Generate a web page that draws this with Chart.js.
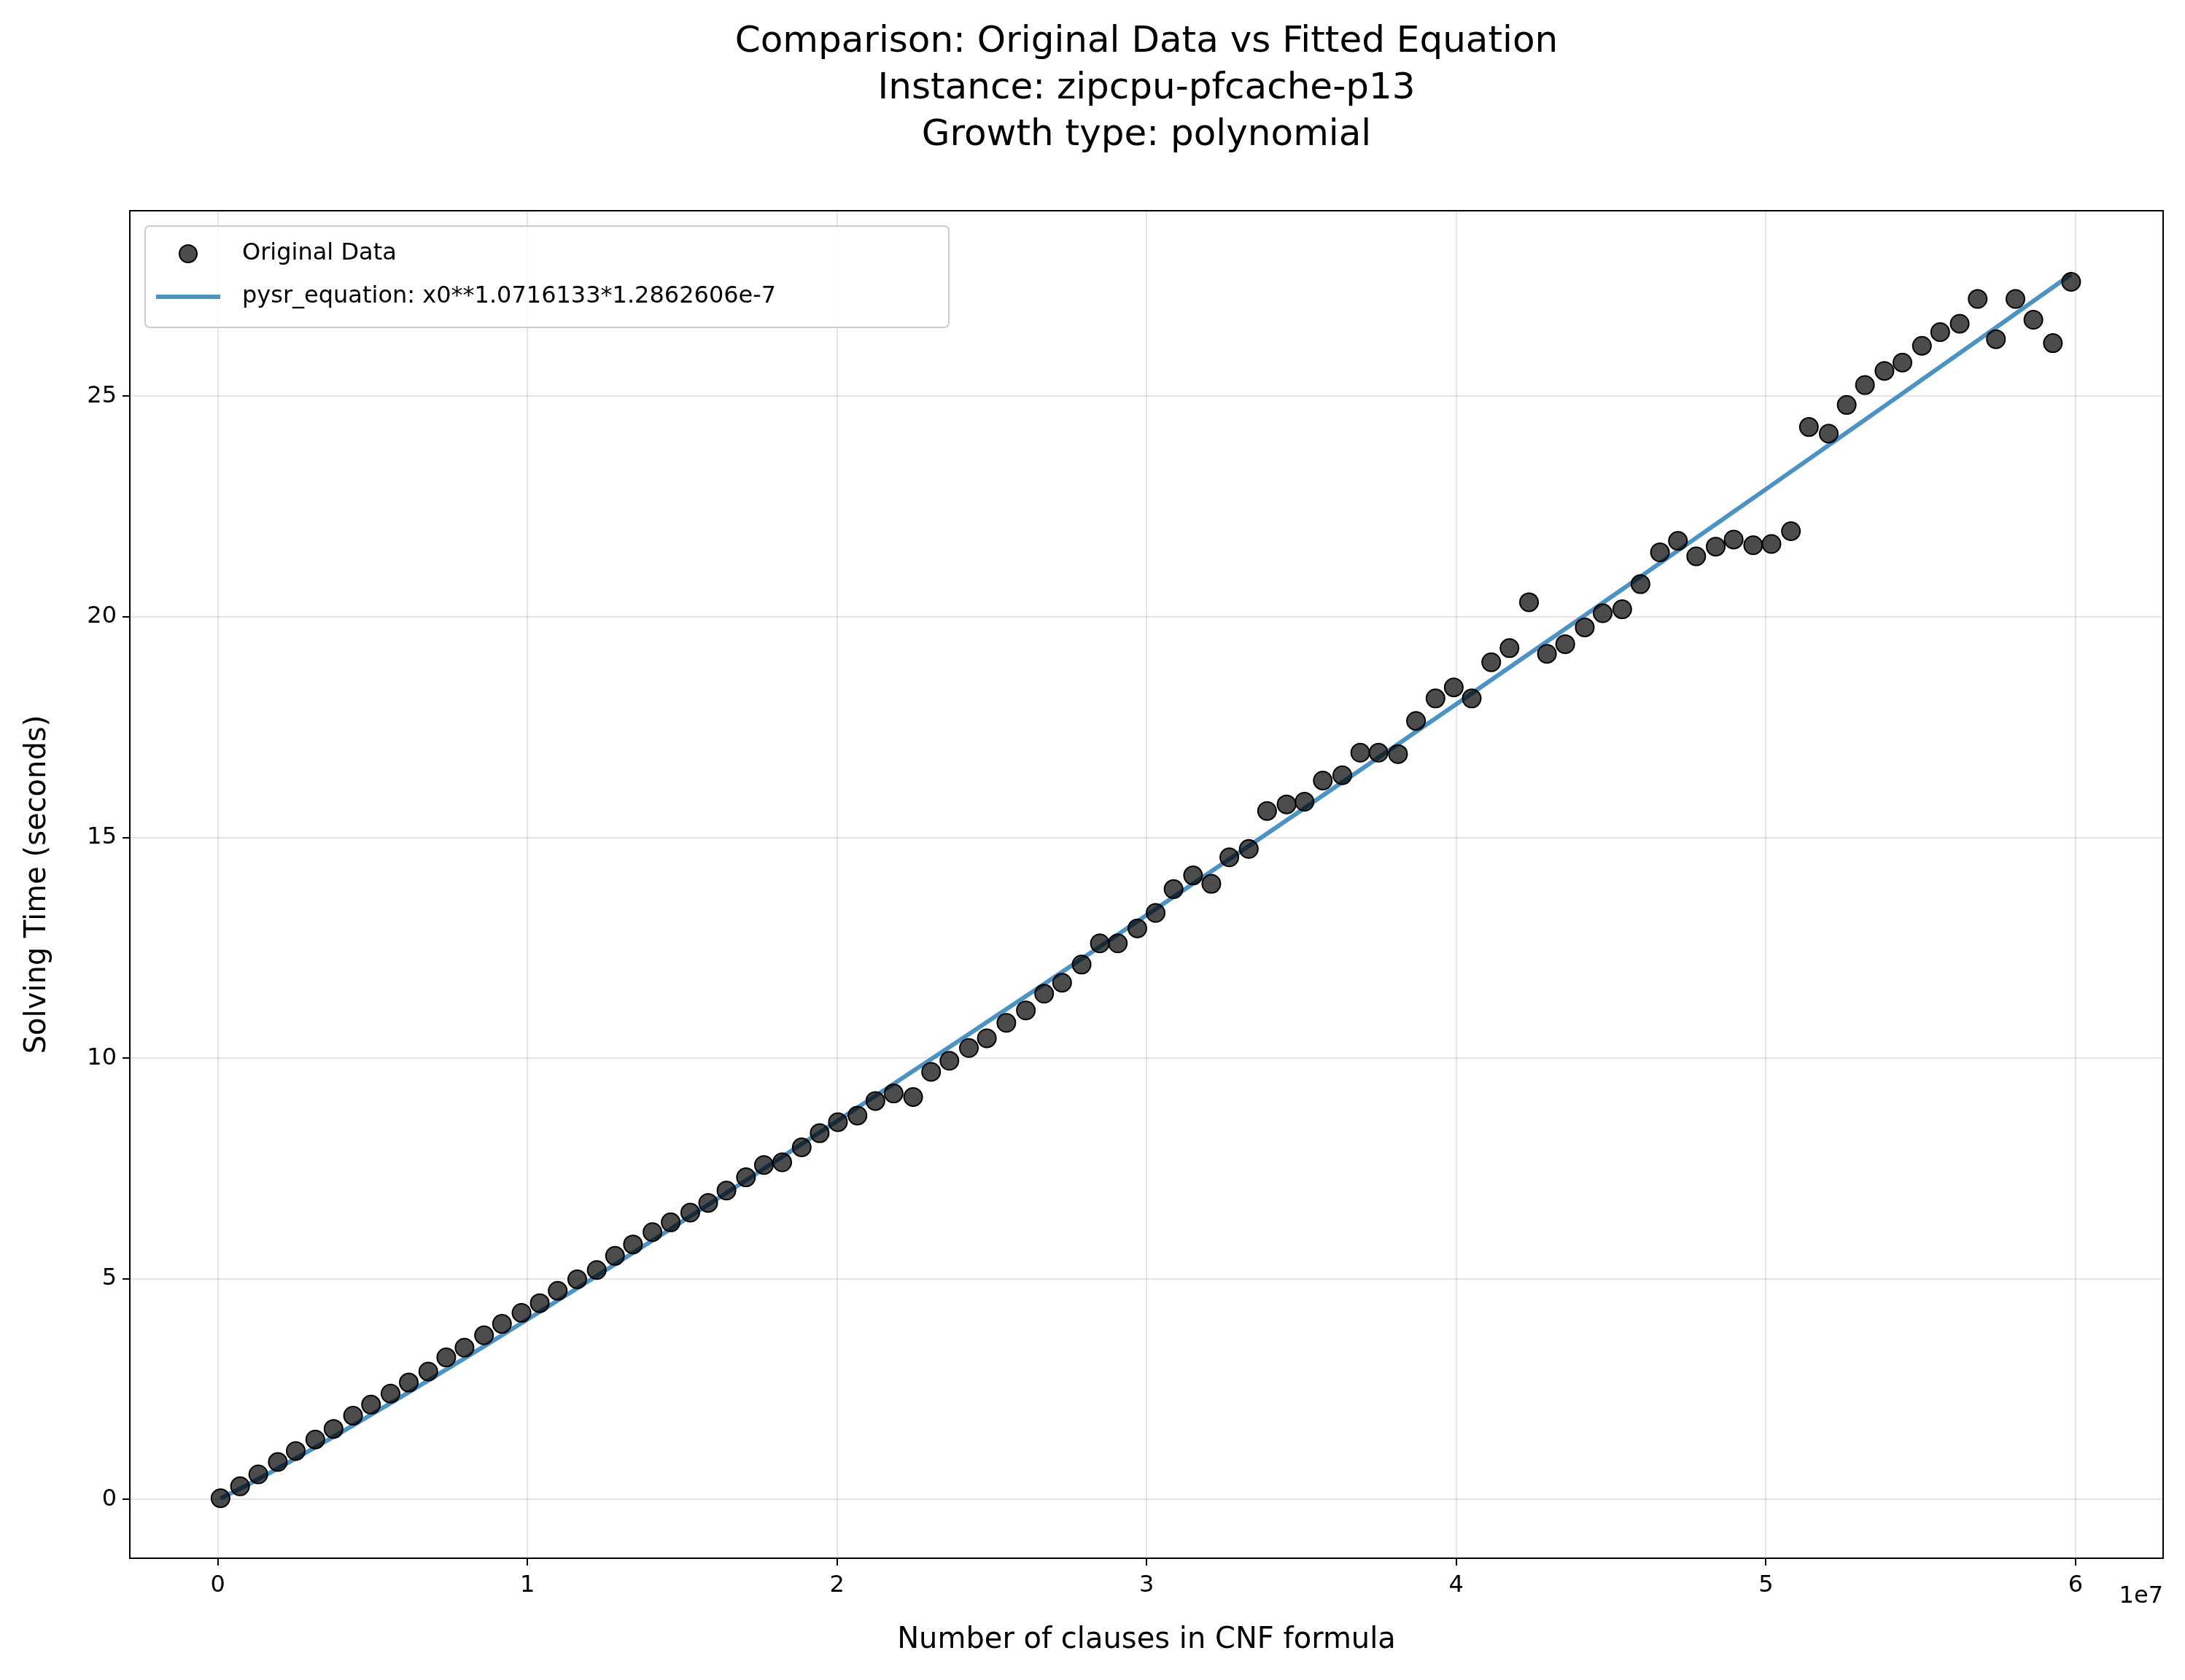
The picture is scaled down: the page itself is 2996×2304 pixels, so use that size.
<!DOCTYPE html>
<html>
<head>
<meta charset="utf-8">
<script src="https://cdn.jsdelivr.net/npm/chart.js@4.4.0/dist/chart.umd.min.js"></script>
<style>
  html, body { margin: 0; padding: 0; background: #fff; }
  #wrap { width: 2996px; height: 2304px; }
</style>
</head>
<body>
<div id="wrap"><canvas id="c" width="2996" height="2304"></canvas></div>
<script>
// --- data (x in millions of clauses, y in seconds) ---
const clausesM = [0.09, 0.72, 1.31, 1.94, 2.52, 3.15, 3.74, 4.37, 4.95, 5.58, 6.17, 6.80, 7.38, 7.97, 8.60, 9.18, 9.81, 10.40, 10.98, 11.61,
  12.24, 12.83, 13.41, 14.04, 14.63, 15.26, 15.84, 16.43, 17.06, 17.64, 18.23, 18.86, 19.44, 20.03, 20.66, 21.24, 21.83, 22.46, 23.04, 23.63,
  24.26, 24.84, 25.47, 26.10, 26.69, 27.27, 27.90, 28.49, 29.07, 29.70, 30.29, 30.87, 31.50, 32.09, 32.67, 33.30, 33.89, 34.52, 35.10, 35.69,
  36.32, 36.90, 37.49, 38.12, 38.70, 39.33, 39.92, 40.50, 41.13, 41.72, 42.35, 42.93, 43.52, 44.15, 44.73, 45.36, 45.95, 46.58, 47.16, 47.75,
  48.38, 48.96, 49.59, 50.18, 50.81, 51.39, 52.03, 52.61, 53.20, 53.83, 54.41, 55.04, 55.63, 56.26, 56.84, 57.43, 58.06, 58.64, 59.27, 59.86];
const solveTimes = [0.03, 0.3, 0.57, 0.85, 1.1, 1.36, 1.6, 1.9, 2.15, 2.4, 2.65, 2.9, 3.22, 3.44, 3.72, 3.98, 4.23, 4.45, 4.73, 4.99,
  5.2, 5.52, 5.78, 6.06, 6.28, 6.5, 6.72, 7.0, 7.3, 7.58, 7.64, 7.98, 8.3, 8.55, 8.7, 9.03, 9.2, 9.12, 9.69, 9.94,
  10.23, 10.45, 10.8, 11.08, 11.46, 11.71, 12.12, 12.6, 12.6, 12.94, 13.29, 13.83, 14.14, 13.95, 14.55, 14.74, 15.6, 15.75, 15.81, 16.29,
  16.41, 16.92, 16.92, 16.89, 17.64, 18.15, 18.4, 18.15, 18.97, 19.29, 20.33, 19.16, 19.38, 19.76, 20.08, 20.17, 20.74, 21.46, 21.72, 21.37,
  21.59, 21.75, 21.62, 21.65, 21.94, 24.3, 24.15, 24.8, 25.25, 25.57, 25.76, 26.14, 26.45, 26.64, 27.2, 26.29, 27.2, 26.73, 26.2, 27.59];
const xTicks = [0, 1e7, 2e7, 3e7, 4e7, 5e7, 6e7];
const yTicks = [0, 5, 10, 15, 20, 25];
const titleLines = ['Comparison: Original Data vs Fitted Equation', 'Instance: zipcpu-pfcache-p13', 'Growth type: polynomial'];
const eqLabel = 'pysr_equation: x0**1.0716133*1.2862606e-7';

const scatterPts = clausesM.map((m, i) => ({ x: m * 1e6, y: solveTimes[i] }));
// fitted curve evaluated from the equation in the legend
const fitPts = clausesM.map(m => ({ x: m * 1e6, y: Math.pow(m * 1e6, 1.0716133) * 1.2862606e-7 }));

const FONT = 'DejaVu Sans';
const lineColor = 'rgba(31,119,180,0.8)';

const decor = {
  id: 'decor',
  afterDraw(chart) {
    const ctx = chart.ctx;
    ctx.save();
    ctx.fillStyle = '#000';
    ctx.textAlign = 'center';
    ctx.textBaseline = 'middle';
    ctx.font = `50px "${FONT}"`;
    const cx = (chart.chartArea.left + chart.chartArea.right) / 2;
    titleLines.forEach((t, i) => ctx.fillText(t, cx, 58 + i * 64));

    ctx.font = `40px "${FONT}"`;
    ctx.fillText('Number of clauses in CNF formula', cx, 2250);
    ctx.save();
    ctx.translate(52, (chart.chartArea.top + chart.chartArea.bottom) / 2);
    ctx.rotate(-Math.PI / 2);
    ctx.fillText('Solving Time (seconds)', 0, 0);
    ctx.restore();

    ctx.font = `32px "${FONT}"`;
    ctx.textAlign = 'right';
    ctx.fillText('1e7', 2966, 2190);

    // legend
    const lx = 199, ly = 310, lw = 1102, lh = 139;
    ctx.fillStyle = 'rgba(255,255,255,0.8)';
    ctx.strokeStyle = '#ccc';
    ctx.lineWidth = 2;
    ctx.beginPath();
    ctx.roundRect(lx, ly, lw, lh, 6);
    ctx.fill();
    ctx.stroke();
    ctx.beginPath();
    ctx.arc(258, 348, 12, 0, Math.PI * 2);
    ctx.fillStyle = 'rgba(0,0,0,0.7)';
    ctx.fill();
    ctx.strokeStyle = '#000';
    ctx.lineWidth = 2;
    ctx.stroke();
    ctx.beginPath();
    ctx.moveTo(214, 407);
    ctx.lineTo(302, 407);
    ctx.strokeStyle = lineColor;
    ctx.lineWidth = 6;
    ctx.stroke();
    ctx.fillStyle = '#000';
    ctx.textAlign = 'left';
    ctx.font = `32px "${FONT}"`;
    ctx.fillText('Original Data', 332, 348);
    ctx.fillText(eqLabel, 332, 407);
    ctx.restore();
  }
};

new Chart(document.getElementById('c').getContext('2d'), {
  type: 'scatter',
  data: {
    datasets: [
      {
        label: eqLabel,
        type: 'line',
        data: fitPts,
        borderColor: lineColor,
        borderWidth: 6,
        pointRadius: 0,
        fill: false,
        order: 2
      },
      {
        label: 'Original Data',
        data: scatterPts,
        backgroundColor: 'rgba(0,0,0,0.7)',
        borderColor: '#000',
        borderWidth: 2,
        pointRadius: 12.5,
        order: 1
      }
    ]
  },
  options: {
    responsive: false,
    animation: false,
    devicePixelRatio: 1,
    layout: { padding: { top: 289, right: 30, left: 0, bottom: 0 } },
    plugins: { legend: { display: false }, title: { display: false }, tooltip: { enabled: false } },
    scales: {
      x: {
        type: 'linear',
        min: -0.284e7,
        max: 6.283e7,
        afterBuildTicks: s => { s.ticks = xTicks.map(v => ({ value: v })); },
        afterFit: s => { s.height = 167; },
        ticks: { callback: v => String(v / 1e7), font: { family: FONT, size: 32 }, color: '#000', padding: 8, maxRotation: 0 },
        grid: { color: 'rgba(0,0,0,0.1)', lineWidth: 2, tickColor: '#000', tickLength: 10 },
        border: { display: true, color: '#000', width: 2 }
      },
      y: {
        min: -1.33,
        max: 29.2,
        afterBuildTicks: s => { s.ticks = yTicks.map(v => ({ value: v })); },
        afterFit: s => { s.width = 178; },
        ticks: { font: { family: FONT, size: 32 }, color: '#000', padding: 8 },
        grid: { color: 'rgba(0,0,0,0.1)', lineWidth: 2, tickColor: '#000', tickLength: 10 },
        border: { display: true, color: '#000', width: 2 }
      }
    }
  },
  plugins: [decor, {
    id: 'frame',
    afterDraw(chart) {
      const { left, right, top, bottom } = chart.chartArea;
      const ctx = chart.ctx;
      ctx.save();
      ctx.strokeStyle = '#000';
      ctx.lineWidth = 2;
      ctx.strokeRect(left, top, right - left, bottom - top);
      ctx.restore();
    }
  }]
});
</script>
</body>
</html>
